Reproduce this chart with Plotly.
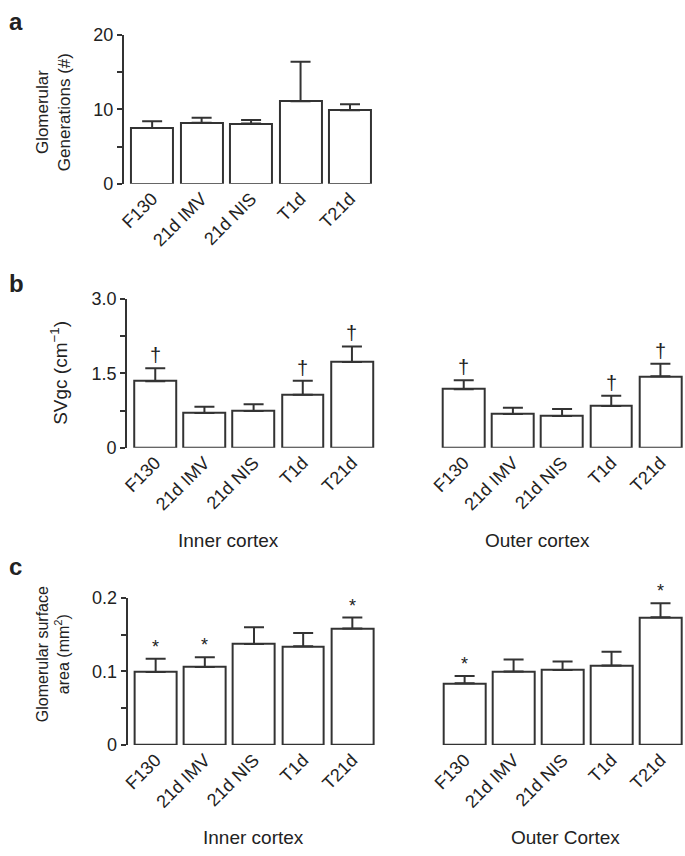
import plotly.graph_objects as go

W, H = 685, 856

categories = ["F130", "21d IMV", "21d NIS", "T1d", "T21d"]

# Panel a: Glomerular generations
gen_mean = [7.5, 8.2, 8.1, 11.1, 9.9]
gen_sem = [0.9, 0.7, 0.5, 5.3, 0.8]

# Panel b: SVgc
svgc_inner_mean = [1.34, 0.70, 0.74, 1.07, 1.73]
svgc_inner_sem = [0.26, 0.125, 0.135, 0.28, 0.31]
svgc_outer_mean = [1.18, 0.68, 0.64, 0.84, 1.44]
svgc_outer_sem = [0.18, 0.125, 0.14, 0.21, 0.25]
svgc_inner_sig = ["†", "", "", "†", "†"]
svgc_outer_sig = ["†", "", "", "†", "†"]

# Panel c: Glomerular surface area
gsa_inner_mean = [0.099, 0.106, 0.137, 0.134, 0.158]
gsa_inner_sem = [0.018, 0.013, 0.023, 0.018, 0.015]
gsa_outer_mean = [0.084, 0.100, 0.102, 0.108, 0.1735]
gsa_outer_sem = [0.0096, 0.016, 0.0115, 0.0185, 0.019]
gsa_inner_sig = ["*", "*", "", "", "*"]
gsa_outer_sig = ["*", "", "", "", "*"]

FONT = "Liberation Sans, Arial, Helvetica, sans-serif"
LINE = "#333333"
TXT = "#222222"


def px_x(p):
    return p / W


def px_y(p):
    return 1 - p / H


fig = go.Figure()


def add_bars(xa, ya, means, sems):
    fig.add_trace(go.Bar(
        x=categories, y=means, width=0.85,
        marker=dict(color="white", line=dict(color=LINE, width=2)),
        error_y=dict(type="data", symmetric=False, array=sems,
                     arrayminus=[0] * len(sems), color=LINE, thickness=2, width=10),
        xaxis=xa, yaxis=ya, showlegend=False, hoverinfo="skip",
    ))


add_bars("x", "y", gen_mean, gen_sem)
add_bars("x2", "y2", svgc_inner_mean, svgc_inner_sem)
add_bars("x3", "y3", svgc_outer_mean, svgc_outer_sem)
add_bars("x4", "y4", gsa_inner_mean, gsa_inner_sem)
add_bars("x5", "y5", gsa_outer_mean, gsa_outer_sem)

xrange = [-0.57, 4.5]

xbase = dict(type="category", range=xrange, showline=False, ticks="",
             tickangle=-45, tickfont=dict(family=FONT, size=18, color=TXT),
             showgrid=False, zeroline=False, fixedrange=True)


def ybase(vals, texts, minor_dtick):
    return dict(showline=True, linecolor=LINE, linewidth=2, ticks="outside",
                ticklen=5, tickwidth=2, tickcolor=LINE, showgrid=False,
                zeroline=False, tickfont=dict(family=FONT, size=18, color=TXT),
                fixedrange=True, tickmode="array", tickvals=vals, ticktext=texts,
                minor=dict(ticks="outside", ticklen=5, tickwidth=2, tickcolor=LINE,
                           dtick=minor_dtick, tick0=0, showgrid=False))


ya_dom = [px_y(178), px_y(25.7)]
yb_dom = [px_y(448.3), px_y(295.7)]
yc_dom = [px_y(752.7), px_y(601.7)]

fig.update_layout(
    width=W, height=H, margin=dict(l=0, r=0, t=0, b=0),
    paper_bgcolor="white", plot_bgcolor="white",
    bargap=0, font=dict(family=FONT, color=TXT),
    xaxis=dict(xbase, domain=[px_x(119), px_x(372)], anchor="y"),
    yaxis=dict(ybase([0, 10, 20], ["0", "10", "20"], 5), domain=ya_dom,
               range=[0, 20], anchor="x"),
    xaxis2=dict(xbase, domain=[px_x(122.3), px_x(373.8)], anchor="y2"),
    yaxis2=dict(ybase([0, 1.5, 3.0], ["0", "1.5", "3.0"], 0.75), domain=yb_dom,
                range=[0, 3.0], anchor="x2"),
    xaxis3=dict(xbase, domain=[px_x(433.5), 1.0], anchor="y3"),
    yaxis3=dict(domain=yb_dom, range=[0, 3.0], anchor="x3", visible=False, fixedrange=True),
    xaxis4=dict(xbase, domain=[px_x(122.7), px_x(374.2)], anchor="y4"),
    yaxis4=dict(ybase([0, 0.1, 0.2], ["0", "0.1", "0.2"], 0.05), domain=yc_dom,
                range=[0, 0.2], anchor="x4"),
    xaxis5=dict(xbase, domain=[px_x(434.5), 1.0], anchor="y5"),
    yaxis5=dict(domain=yc_dom, range=[0, 0.2], anchor="x5", visible=False, fixedrange=True),
)

ann = []


def txt(x, y, t, size=19, bold=False, angle=0, xanchor="center", yanchor="middle"):
    ann.append(dict(x=px_x(x), y=px_y(y), xref="paper", yref="paper", text=t,
                    showarrow=False, textangle=angle, xanchor=xanchor, yanchor=yanchor,
                    font=dict(family=FONT, size=size, color="#111111" if bold else TXT)))


# panel letters
txt(1, 12, "<b>a</b>", size=24, xanchor="left")
txt(1, 280, "<b>b</b>", size=24, xanchor="left")
txt(1, 570, "<b>c</b>", size=24, xanchor="left")

# axis titles
txt(48, 105, "Glomerular<br>Generations (#)", size=17, angle=-90)
txt(54, 372, "SVgc (cm<sup>−1</sup>)", size=19, angle=-90)
txt(47, 660, "Glomerular surface<br>area (mm<sup>2</sup>)", size=16, angle=-90)

# group labels
txt(224, 543, "Inner cortex")
txt(536, 543, "Outer cortex")
txt(250, 847, "Inner cortex")
txt(564, 847, "Outer Cortex")


def sig(xa, ya, means, sems, marks, size, shift):
    for c, m, s, k in zip(categories, means, sems, marks):
        if k:
            ann.append(dict(x=c, y=m + s, xref=xa, yref=ya, text=k, showarrow=False,
                            yanchor="bottom", yshift=shift,
                            font=dict(family=FONT, size=size, color=TXT)))


sig("x2", "y2", svgc_inner_mean, svgc_inner_sem, svgc_inner_sig, 20, 0)
sig("x3", "y3", svgc_outer_mean, svgc_outer_sem, svgc_outer_sig, 20, 0)
sig("x4", "y4", gsa_inner_mean, gsa_inner_sem, gsa_inner_sig, 18, 0)
sig("x5", "y5", gsa_outer_mean, gsa_outer_sem, gsa_outer_sig, 18, 0)

fig.update_layout(annotations=ann)

fig.write_html("out.html", config={"displayModeBar": False},
               post_script="document.body.style.margin='0';document.body.style.overflow='hidden';")
